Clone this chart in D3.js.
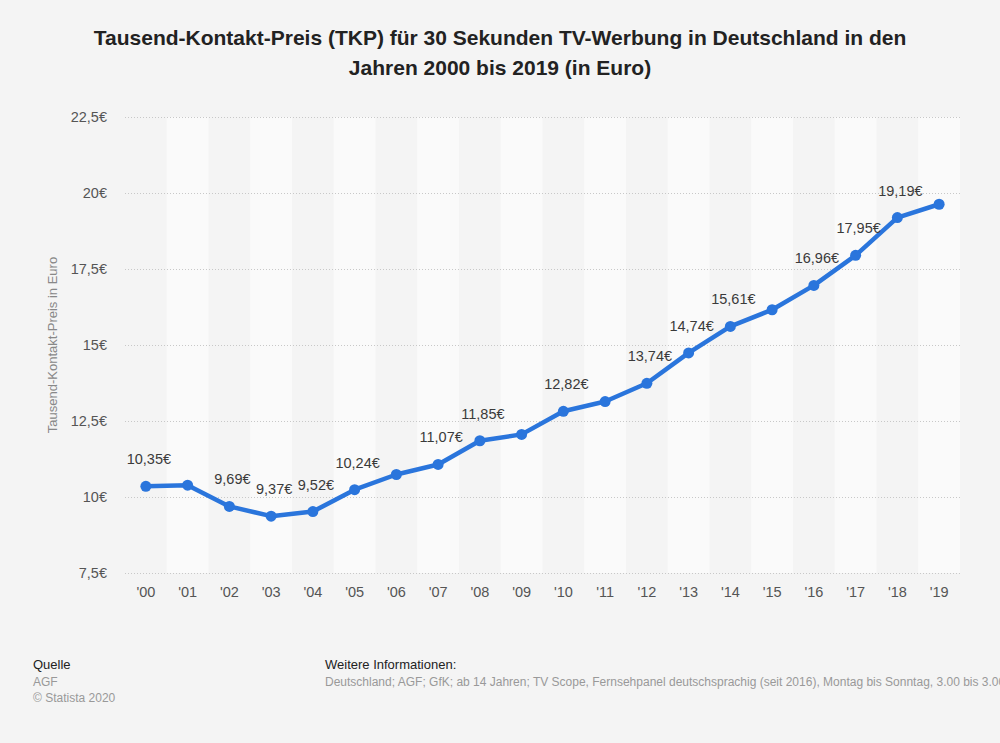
<!DOCTYPE html>
<html>
<head>
<meta charset="utf-8">
<script src="https://cdn.jsdelivr.net/npm/d3@7"></script>
<style>
  html, body { margin: 0; padding: 0; background: #f4f4f4; }
  svg { display: block; font-family: "Liberation Sans", Arial, sans-serif; }
</style>
</head>
<body>
<script>
// data
const years = ["'00", "'01", "'02", "'03", "'04", "'05", "'06", "'07", "'08", "'09",
  "'10", "'11", "'12", "'13", "'14", "'15", "'16", "'17", "'18", "'19"]
const values = [10.35, 10.39, 9.69, 9.37, 9.52, 10.24, 10.74, 11.07, 11.85, 12.06,
  12.82, 13.14, 13.74, 14.74, 15.61, 16.16, 16.96, 17.95, 19.19, 19.63]
const pointLabels = ['10,35€', null, '9,69€', '9,37€', '9,52€', '10,24€', null, '11,07€', '11,85€', null,
  '12,82€', null, '13,74€', '14,74€', '15,61€', null, '16,96€', '17,95€', '19,19€', null]
const yTicks = [7.5, 10, 12.5, 15, 17.5, 20, 22.5]

const titleLines = [
  'Tausend-Kontakt-Preis (TKP) für 30 Sekunden TV-Werbung in Deutschland in den',
  'Jahren 2000 bis 2019 (in Euro)'
]
const yTitle = 'Tausend-Kontakt-Preis in Euro'

// layout
const WIDTH = 1000
const HEIGHT = 743
const PLOT = { left: 125, right: 960, top: 117, bottom: 573 }
const LINE_COLOR = '#2a75dc'

const fmt = v => String(v).replace('.', ',') + '€'

const svg = d3.select('body').append('svg')
  .attr('width', WIDTH)
  .attr('height', HEIGHT)

svg.append('rect')
  .attr('width', WIDTH)
  .attr('height', HEIGHT)
  .attr('fill', '#f4f4f4')

const x = d3.scaleBand()
  .domain(years)
  .range([PLOT.left, PLOT.right])
  .padding(0)

const y = d3.scaleLinear()
  .domain([7.5, 22.5])
  .range([PLOT.bottom, PLOT.top])

// alternating column bands
svg.append('g')
  .selectAll('rect')
  .data(years.filter((d, i) => i % 2 === 1))
  .join('rect')
    .attr('x', d => x(d))
    .attr('y', PLOT.top)
    .attr('width', x.bandwidth())
    .attr('height', PLOT.bottom - PLOT.top)
    .attr('fill', '#fafafa')

// title
svg.append('g')
  .selectAll('text')
  .data(titleLines)
  .join('text')
    .attr('x', 500)
    .attr('y', (d, i) => 45 + i * 30)
    .attr('text-anchor', 'middle')
    .attr('font-size', '21px')
    .attr('font-weight', 'bold')
    .attr('fill', '#222')
    .text(d => d)

// y axis with grid
const yAxis = svg.append('g')
  .attr('transform', `translate(${PLOT.left}, 0)`)
  .call(d3.axisLeft(y)
    .tickValues(yTicks)
    .tickSize(-(PLOT.right - PLOT.left))
    .tickPadding(18)
    .tickFormat(fmt))
yAxis.select('.domain').remove()
yAxis.selectAll('line')
  .attr('stroke', '#c8c8c8')
  .attr('stroke-dasharray', '1,2')
yAxis.selectAll('text')
  .attr('font-size', '14.5px')
  .attr('fill', '#555')
  .attr('font-family', '"Liberation Sans", Arial, sans-serif')

// x axis
const xAxis = svg.append('g')
  .attr('transform', `translate(0, ${PLOT.bottom})`)
  .call(d3.axisBottom(x).tickSize(0).tickPadding(14))
xAxis.select('.domain').remove()
xAxis.selectAll('text')
  .attr('font-size', '14.5px')
  .attr('fill', '#555')
  .attr('font-family', '"Liberation Sans", Arial, sans-serif')

// y title
svg.append('text')
  .attr('transform', `translate(57, ${(PLOT.top + PLOT.bottom) / 2}) rotate(-90)`)
  .attr('text-anchor', 'middle')
  .attr('font-size', '13px')
  .attr('fill', '#888')
  .text(yTitle)

// line + points
const cx = d => x(d) + x.bandwidth() / 2
const data = years.map((d, i) => ({ year: d, value: values[i], label: pointLabels[i] }))

svg.append('path')
  .datum(data)
  .attr('d', d3.line().x(d => cx(d.year)).y(d => y(d.value)))
  .attr('fill', 'none')
  .attr('stroke', LINE_COLOR)
  .attr('stroke-width', 4.5)
  .attr('stroke-linejoin', 'round')

svg.append('g')
  .selectAll('circle')
  .data(data)
  .join('circle')
    .attr('cx', d => cx(d.year))
    .attr('cy', d => y(d.value))
    .attr('r', 5.5)
    .attr('fill', LINE_COLOR)

svg.append('g')
  .selectAll('text')
  .data(data.filter(d => d.label))
  .join('text')
    .attr('x', d => cx(d.year) + 3)
    .attr('y', d => y(d.value) - 22)
    .attr('text-anchor', 'middle')
    .attr('font-size', '14.5px')
    .attr('fill', '#3a3a3a')
    .text(d => d.label)

// footer
const foot = svg.append('g').attr('font-size', '12px')
foot.append('text').attr('x', 33).attr('y', 669).attr('fill', '#222').attr('font-size', '13px').text('Quelle')
foot.append('text').attr('x', 33).attr('y', 686).attr('fill', '#999').text('AGF')
foot.append('text').attr('x', 33).attr('y', 702).attr('fill', '#999').text('© Statista 2020')
foot.append('text').attr('x', 325).attr('y', 669).attr('fill', '#222').attr('font-size', '13px').text('Weitere Informationen:')
foot.append('text').attr('x', 325).attr('y', 686).attr('fill', '#999')
  .text('Deutschland; AGF; GfK; ab 14 Jahren; TV Scope, Fernsehpanel deutschsprachig (seit 2016), Montag bis Sonntag, 3.00 bis 3.00 Uhr')
</script>
</body>
</html>
